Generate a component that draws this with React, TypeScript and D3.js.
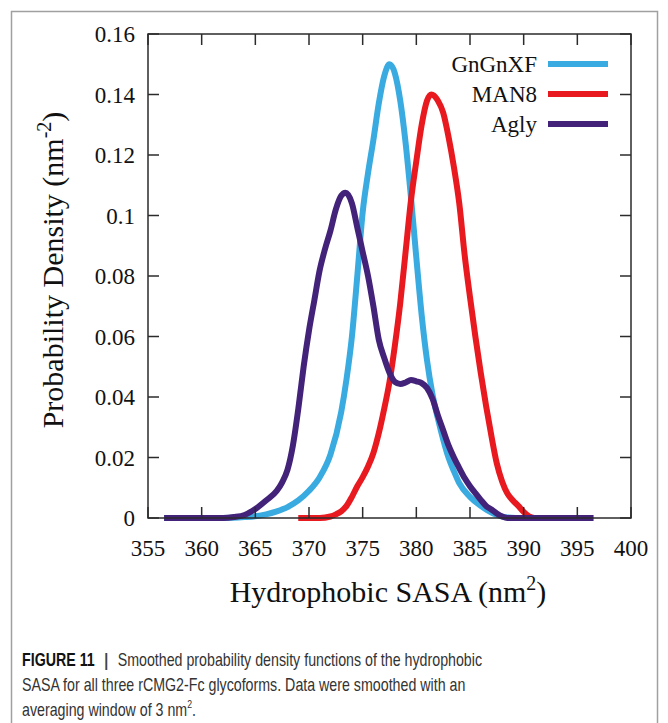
import * as d3 from "d3";

// x axis: hydrophobic SASA (nm^2), y axis: probability density
const sasaTicks = [355, 360, 365, 370, 375, 380, 385, 390, 395, 400];
const densityTicks = [0, 0.02, 0.04, 0.06, 0.08, 0.1, 0.12, 0.14, 0.16];
const densityLabels = ["0", "0.02", "0.04", "0.06", "0.08", "0.1", "0.12", "0.14", "0.16"];

const seriesNames = ["GnGnXF", "MAN8", "Agly"];
const seriesColors = ["#3aabe0", "#e8191f", "#43227a"];

const gnGnXF: [number, number][] = [
  [356.5, 0], [362, 0], [364, 0.0003], [365, 0.0006], [366, 0.0012], [367, 0.0022],
  [368, 0.0036], [369, 0.0058], [370, 0.009], [371, 0.0135], [372, 0.021], [373, 0.035],
  [373.5, 0.046], [374, 0.06], [374.5, 0.08], [375, 0.101], [375.5, 0.114], [376, 0.125],
  [376.5, 0.137], [377, 0.146], [377.5, 0.15], [378, 0.147], [378.5, 0.138], [379, 0.124],
  [379.5, 0.106], [380, 0.086], [380.5, 0.067], [381, 0.052], [381.5, 0.041], [382, 0.033],
  [382.5, 0.026], [383, 0.02], [383.5, 0.0155], [384, 0.0115], [385, 0.007], [386, 0.004],
  [386.6, 0.0026], [387.5, 0.001], [388.5, 0.0002], [390, 0], [396.5, 0],
];

const man8: [number, number][] = [
  [369, 0], [371, 0], [372, 0.0005], [372.5, 0.0012], [373, 0.0022], [373.5, 0.004],
  [374, 0.007], [374.5, 0.0105], [375, 0.0135], [375.5, 0.017], [376, 0.0215], [376.5, 0.028],
  [377, 0.036], [377.5, 0.045], [378, 0.057], [378.5, 0.071], [379, 0.088], [379.5, 0.105],
  [380, 0.118], [380.5, 0.13], [381, 0.138], [381.4, 0.14], [382, 0.138], [382.5, 0.134],
  [383, 0.126], [383.5, 0.116], [384, 0.104], [384.5, 0.087], [385, 0.073], [385.5, 0.06],
  [386, 0.048], [386.5, 0.037], [387, 0.027], [387.5, 0.018], [388, 0.012], [388.5, 0.008],
  [389, 0.0058], [389.5, 0.004], [390, 0.002], [390.5, 0.0005], [391, 0], [396, 0],
];

const agly: [number, number][] = [
  [356.5, 0], [362, 0], [363, 0.0003], [364, 0.001], [365, 0.003], [366, 0.0058],
  [367, 0.009], [367.5, 0.0118], [368, 0.016], [368.5, 0.024], [369, 0.036], [369.5, 0.05],
  [370, 0.062], [370.5, 0.072], [371, 0.082], [371.5, 0.089], [372, 0.095], [372.5, 0.102],
  [373, 0.1065], [373.4, 0.1075], [374, 0.104], [374.5, 0.096], [375, 0.088], [375.5, 0.08],
  [376, 0.07], [376.5, 0.059], [377, 0.053], [377.5, 0.048], [378, 0.045], [378.5, 0.0443],
  [379, 0.0448], [379.5, 0.0456], [380, 0.0452], [380.5, 0.0446], [381, 0.043], [381.5, 0.0395],
  [382, 0.034], [382.5, 0.029], [383, 0.024], [383.5, 0.02], [384, 0.0165], [384.5, 0.0132],
  [385, 0.0105], [385.5, 0.0082], [386, 0.006], [386.5, 0.004], [387, 0.0028], [387.5, 0.0015],
  [388, 0.0005], [388.5, 0], [396.5, 0],
];

const seriesData = [gnGnXF, man8, agly];

const W = 668;
const H = 723;
const plot = { left: 148, right: 631, top: 34, bottom: 518 };
const tickLen = 11;
const serif = "'Liberation Serif', 'Times New Roman', serif";
const sans = "'Liberation Sans', Arial, sans-serif";
const squeeze = 0.79; // caption font in the figure is a condensed sans

const x = d3.scaleLinear().domain([355, 400]).range([plot.left, plot.right]);
const y = d3.scaleLinear().domain([0, 0.16]).range([plot.bottom, plot.top]);

const line = d3
  .line<[number, number]>()
  .x((d) => x(d[0]))
  .y((d) => y(d[1]))
  .curve(d3.curveMonotoneX);

export default function App() {
  const axisColor = "#2b2b2b";
  return (
    <svg
      width={W}
      height={H}
      style={{ position: "absolute", left: 0, top: 0, background: "#fff" }}
    >
      {/* figure frame */}
      <rect x={11.5} y={11.5} width={646} height={760} fill="none" stroke="#a0a0a0" strokeWidth={1.5} />

      {/* curves, Agly drawn last */}
      {seriesData.map((d, i) => (
        <path
          key={seriesNames[i]}
          d={line(d) ?? ""}
          fill="none"
          stroke={seriesColors[i]}
          strokeWidth={6}
          strokeLinejoin="round"
          strokeLinecap="butt"
        />
      ))}

      {/* plot border */}
      <rect
        x={plot.left}
        y={plot.top}
        width={plot.right - plot.left}
        height={plot.bottom - plot.top}
        fill="none"
        stroke={axisColor}
        strokeWidth={1.5}
      />

      {/* x ticks, inward top and bottom */}
      {sasaTicks.map((t) => (
        <g key={"x" + t}>
          <line x1={x(t)} x2={x(t)} y1={plot.bottom} y2={plot.bottom - tickLen} stroke={axisColor} strokeWidth={1.5} />
          <line x1={x(t)} x2={x(t)} y1={plot.top} y2={plot.top + tickLen} stroke={axisColor} strokeWidth={1.5} />
          <text x={x(t)} y={556} textAnchor="middle" fontFamily={serif} fontSize={23} fill="#111">
            {t}
          </text>
        </g>
      ))}

      {/* y ticks, inward left and right */}
      {densityTicks.map((t, i) => (
        <g key={"y" + t}>
          <line x1={plot.left} x2={plot.left + tickLen} y1={y(t)} y2={y(t)} stroke={axisColor} strokeWidth={1.5} />
          <line x1={plot.right} x2={plot.right - tickLen} y1={y(t)} y2={y(t)} stroke={axisColor} strokeWidth={1.5} />
          <text x={135} y={y(t)} dy="0.36em" textAnchor="end" fontFamily={serif} fontSize={23} fill="#111">
            {densityLabels[i]}
          </text>
        </g>
      ))}

      {/* legend */}
      {seriesNames.map((name, i) => (
        <g key={"leg" + name} transform={`translate(0,${64 + i * 30})`}>
          <text x={537} y={0} dy="0.34em" textAnchor="end" fontFamily={serif} fontSize={23} fill="#111">
            {name}
          </text>
          <line x1={548} x2={608} y1={0} y2={0} stroke={seriesColors[i]} strokeWidth={6} />
        </g>
      ))}

      {/* axis titles */}
      <text x={388} y={602} textAnchor="middle" fontFamily={serif} fontSize={30} fill="#111">
        Hydrophobic SASA (nm
        <tspan fontSize={20} dy={-12}>2</tspan>
        <tspan dy={12}>)</tspan>
      </text>
      <text
        transform="translate(63,270) rotate(-90)"
        textAnchor="middle"
        fontFamily={serif}
        fontSize={30}
        fill="#111"
      >
        Probability Density (nm
        <tspan fontSize={20} dy={-12}>-2</tspan>
        <tspan dy={12}>)</tspan>
      </text>

      {/* caption */}
      <g fontFamily={sans} fontSize={18} fill="#333">
        <text transform={`translate(22,666) scale(${squeeze},1)`}>
          <tspan fontWeight="bold" fill="#111">FIGURE 11</tspan>
          <tspan fontWeight="bold" fill="#444" dx={12}>|</tspan>
          <tspan dx={12}>Smoothed probability density functions of the hydrophobic</tspan>
        </text>
        <text transform={`translate(22,691) scale(${squeeze},1)`}>
          SASA for all three rCMG2-Fc glycoforms. Data were smoothed with an
        </text>
        <text transform={`translate(22,716) scale(${squeeze},1)`}>
          averaging window of 3 nm
          <tspan fontSize={11} dy={-8}>2</tspan>
          <tspan dy={8}>.</tspan>
        </text>
      </g>
    </svg>
  );
}
